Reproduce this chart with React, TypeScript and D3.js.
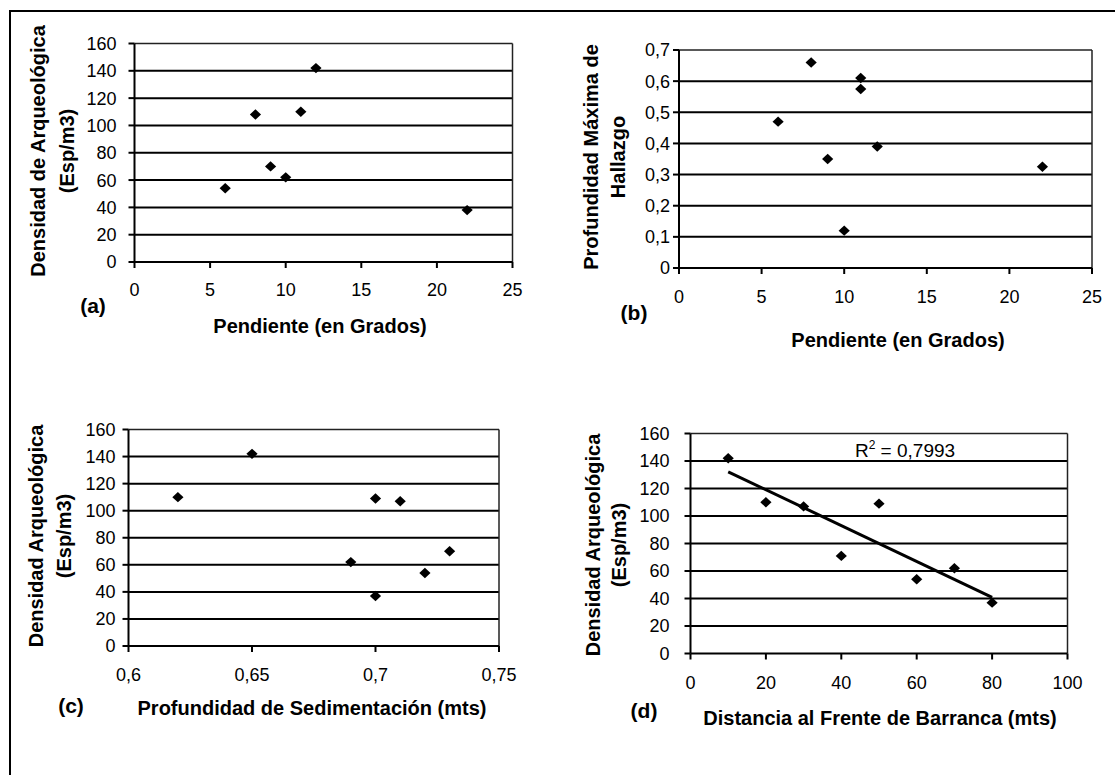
import React from 'react';
import * as d3 from 'd3';

// ---- data ----
const slopeA = [6, 8, 9, 10, 11, 12, 22];
const densityA = [54, 108, 70, 62, 110, 142, 38];

const slopeB = [6, 8, 9, 10, 11, 11, 12, 22];
const depthB = [0.47, 0.66, 0.35, 0.12, 0.61, 0.575, 0.39, 0.325];

const sedC = [0.62, 0.65, 0.69, 0.7, 0.7, 0.71, 0.72, 0.73];
const densityC = [110, 142, 62, 109, 37, 107, 54, 70];

const distD = [10, 20, 30, 40, 50, 60, 70, 80];
const densityD = [142, 110, 107, 71, 109, 54, 62, 37];
const r2Text = '0,7993';

const ticksDensity = [0, 20, 40, 60, 80, 100, 120, 140, 160];
const ticksSlope = [0, 5, 10, 15, 20, 25];
const ticksDepth = [0, 0.1, 0.2, 0.3, 0.4, 0.5, 0.6, 0.7];
const ticksSed = [0.6, 0.65, 0.7, 0.75];
const ticksDist = [0, 20, 40, 60, 80, 100];

const fmt = (v: number) => String(v).replace('.', ',');

const TICK_FONT = '"Liberation Sans", Arial, sans-serif';
const TITLE_FONT = '"Liberation Sans", Arial, sans-serif';
const TICK_SIZE = 18;
const TITLE_SIZE = 20;

type PanelProps = {
  xs: number[];
  ys: number[];
  xTicks: number[];
  yTicks: number[];
  box: { l: number; r: number; t: number; b: number };
  yLabelGap: number;
  xLabelY: number;
  letter: string;
  letterPos: [number, number];
  xTitle: string;
  xTitlePos: [number, number];
  yTitle: string[];
  yTitleX: number[];
  yTitleCY: number;
  trend?: boolean;
  r2Pos?: [number, number];
};

function Panel(p: PanelProps) {
  const x = d3
    .scaleLinear()
    .domain([p.xTicks[0], p.xTicks[p.xTicks.length - 1]])
    .range([p.box.l, p.box.r]);
  const y = d3
    .scaleLinear()
    .domain([p.yTicks[0], p.yTicks[p.yTicks.length - 1]])
    .range([p.box.b, p.box.t]);
  const diamond = (cx: number, cy: number) =>
    `M${cx},${cy - 5.2}L${cx + 5.6},${cy}L${cx},${cy + 5.2}L${cx - 5.6},${cy}Z`;

  let trendLine: string | null = null;
  if (p.trend) {
    const mx = d3.mean(p.xs)!;
    const my = d3.mean(p.ys)!;
    let sxy = 0;
    let sxx = 0;
    p.xs.forEach((v, i) => {
      sxy += (v - mx) * (p.ys[i] - my);
      sxx += (v - mx) * (v - mx);
    });
    const slope = sxy / sxx;
    const f = (v: number) => my + slope * (v - mx);
    const x0 = d3.min(p.xs)!;
    const x1 = d3.max(p.xs)!;
    trendLine = d3.line<number>()
      .x((v) => x(v))
      .y((v) => y(f(v)))([x0, x1]);
  }

  return (
    <g>
      {p.yTicks.slice(1, -1).map((t) => (
        <line key={'g' + t} x1={p.box.l} x2={p.box.r} y1={y(t)} y2={y(t)} stroke="#000" strokeWidth={2} />
      ))}
      <line x1={p.box.l} x2={p.box.r} y1={p.box.t} y2={p.box.t} stroke="#222" strokeWidth={1.5} />
      <line x1={p.box.r} x2={p.box.r} y1={p.box.t} y2={p.box.b} stroke="#222" strokeWidth={1.5} />
      <line x1={p.box.l} x2={p.box.l} y1={p.box.t} y2={p.box.b} stroke="#000" strokeWidth={2} />
      <line x1={p.box.l} x2={p.box.r} y1={p.box.b} y2={p.box.b} stroke="#000" strokeWidth={2} />
      {p.yTicks.map((t) => (
        <g key={'y' + t}>
          <line x1={p.box.l - 6} x2={p.box.l} y1={y(t)} y2={y(t)} stroke="#000" strokeWidth={2} />
          <text
            x={p.box.l - p.yLabelGap}
            y={y(t)}
            dy="0.36em"
            textAnchor="end"
            fontFamily={TICK_FONT}
            fontSize={TICK_SIZE}
            fill="#000"
          >
            {fmt(t)}
          </text>
        </g>
      ))}
      {p.xTicks.map((t) => (
        <g key={'x' + t}>
          <line x1={x(t)} x2={x(t)} y1={p.box.b} y2={p.box.b + 6} stroke="#000" strokeWidth={2} />
          <text
            x={x(t)}
            y={p.xLabelY}
            dy="0.36em"
            textAnchor="middle"
            fontFamily={TICK_FONT}
            fontSize={TICK_SIZE}
            fill="#000"
          >
            {fmt(t)}
          </text>
        </g>
      ))}
      {trendLine && <path d={trendLine} stroke="#000" strokeWidth={3} fill="none" />}
      {p.xs.map((v, i) => (
        <path key={'p' + i} d={diamond(x(v), y(p.ys[i]))} fill="#000" />
      ))}
      {p.r2Pos && (
        <text
          x={p.r2Pos[0]}
          y={p.r2Pos[1]}
          dy="0.36em"
          textAnchor="middle"
          fontFamily={TICK_FONT}
          fontSize={19}
          fill="#000"
        >
          R<tspan fontSize={12} dy={-8}>2</tspan>
          <tspan dy={8}>{' = ' + r2Text}</tspan>
        </text>
      )}
      <text
        x={p.letterPos[0]}
        y={p.letterPos[1]}
        dy="0.36em"
        textAnchor="middle"
        fontFamily={TITLE_FONT}
        fontWeight="bold"
        fontSize={21}
        fill="#000"
      >
        {p.letter}
      </text>
      <text
        x={p.xTitlePos[0]}
        y={p.xTitlePos[1]}
        dy="0.36em"
        textAnchor="middle"
        fontFamily={TITLE_FONT}
        fontWeight="bold"
        fontSize={TITLE_SIZE}
        fill="#000"
      >
        {p.xTitle}
      </text>
      {p.yTitle.map((s, i) => (
        <text
          key={'yt' + i}
          transform={`translate(${p.yTitleX[i]},${p.yTitleCY}) rotate(-90)`}
          dy="0.36em"
          textAnchor="middle"
          fontFamily={TITLE_FONT}
          fontWeight="bold"
          fontSize={TITLE_SIZE}
          fill="#000"
        >
          {s}
        </text>
      ))}
    </g>
  );
}

export default function App() {
  return (
    <svg
      width={1115}
      height={775}
      style={{ position: 'absolute', left: 0, top: 0, background: '#fff' }}
    >
      <rect x={0} y={0} width={1115} height={775} fill="#fff" />
      <line x1={9} x2={1115} y1={11} y2={11} stroke="#000" strokeWidth={2} />
      <line x1={10} x2={10} y1={10} y2={775} stroke="#000" strokeWidth={2} />

      <Panel
        xs={slopeA}
        ys={densityA}
        xTicks={ticksSlope}
        yTicks={ticksDensity}
        box={{ l: 134.5, r: 512.5, t: 43.5, b: 262 }}
        yLabelGap={18}
        xLabelY={290}
        letter="(a)"
        letterPos={[93, 305]}
        xTitle="Pendiente (en Grados)"
        xTitlePos={[320, 326]}
        yTitle={['Densidad de Arqueológica', '(Esp/m3)']}
        yTitleX={[37.5, 66.5]}
        yTitleCY={151}
      />
      <Panel
        xs={slopeB}
        ys={depthB}
        xTicks={ticksSlope}
        yTicks={ticksDepth}
        box={{ l: 679, r: 1092, t: 50, b: 268 }}
        yLabelGap={9}
        xLabelY={297}
        letter="(b)"
        letterPos={[634, 312]}
        xTitle="Pendiente (en Grados)"
        xTitlePos={[898, 340]}
        yTitle={['Profundidad Máxima de', 'Hallazgo']}
        yTitleX={[590.5, 617.5]}
        yTitleCY={157}
      />
      <Panel
        xs={sedC}
        ys={densityC}
        xTicks={ticksSed}
        yTicks={ticksDensity}
        box={{ l: 128.5, r: 499, t: 429.5, b: 646 }}
        yLabelGap={13}
        xLabelY={675}
        letter="(c)"
        letterPos={[71, 705]}
        xTitle="Profundidad de Sedimentación (mts)"
        xTitlePos={[312, 708]}
        yTitle={['Densidad Arqueológica', '(Esp/m3)']}
        yTitleX={[35.5, 64]}
        yTitleCY={536}
      />
      <Panel
        xs={distD}
        ys={densityD}
        xTicks={ticksDist}
        yTicks={ticksDensity}
        box={{ l: 690.5, r: 1067.5, t: 433.5, b: 653.5 }}
        yLabelGap={21}
        xLabelY={683}
        letter="(d)"
        letterPos={[644, 710]}
        xTitle="Distancia al Frente de Barranca (mts)"
        xTitlePos={[880, 718]}
        yTitle={['Densidad Arqueológica', '(Esp/m3)']}
        yTitleX={[592.5, 619]}
        yTitleCY={545}
        trend
        r2Pos={[905, 450]}
      />
    </svg>
  );
}
